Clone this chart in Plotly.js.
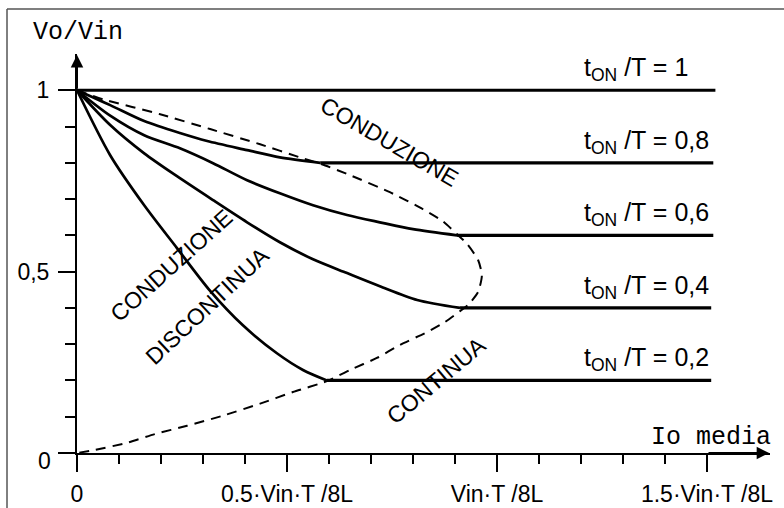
<!DOCTYPE html>
<html><head><meta charset="utf-8">
<script src="https://cdn.plot.ly/plotly-3.0.1.min.js"></script>
<style>html,body{margin:0;padding:0;background:#fff}</style>
</head><body><div id="chart" style="width:784px;height:508px"></div>
<script>
// ---- data ----
const xTickVals = [0, 0.5, 1, 1.5];
const xTickText = ['0', '0.5·Vin·T /8L', 'Vin·T /8L', '1.5·Vin·T /8L'];
const xMinorVals = [0.1,0.2,0.3,0.4,0.6,0.7,0.8,0.9,1.1,1.2,1.3,1.4];
const yTickVals = [0, 0.5, 1];
const yTickText = ['', '0,5', '1'];
const yMinorVals = [0.1,0.2,0.3,0.4,0.6,0.7,0.8,0.9];

const dutyLabels = ['1', '0,8', '0,6', '0,4', '0,2'];
const dutyLevels = [1, 0.8, 0.6, 0.4, 0.2];

// each series: curved (discontinuous conduction) part, last point = start of the flat part; final point = end of flat part
const d10x = [0, 1.52];
const d10y = [1, 1];
const d08x = [0, 0.079, 0.160, 0.245, 0.310, 0.405, 0.483, 0.579, 1.515];
const d08y = [1, 0.959, 0.915, 0.882, 0.860, 0.835, 0.815, 0.800, 0.800];
const d06x = [0, 0.079, 0.160, 0.245, 0.324, 0.405, 0.483, 0.562, 0.643, 0.721, 0.800, 0.905, 1.515];
const d06y = [1, 0.930, 0.876, 0.840, 0.799, 0.752, 0.716, 0.683, 0.656, 0.636, 0.617, 0.600, 0.600];
const d04x = [0, 0.079, 0.160, 0.238, 0.324, 0.405, 0.483, 0.562, 0.643, 0.721, 0.810, 0.912, 1.51];
const d04y = [1, 0.904, 0.826, 0.763, 0.697, 0.636, 0.581, 0.534, 0.496, 0.460, 0.422, 0.400, 0.400];
const d02x = [0, 0.079, 0.160, 0.238, 0.317, 0.395, 0.476, 0.538, 0.595, 1.51];
const d02y = [1, 0.821, 0.683, 0.565, 0.447, 0.352, 0.275, 0.229, 0.200, 0.200];

// dashed boundary between continuous and discontinuous conduction
const bndX = [0, 0.062, 0.198, 0.317, 0.436, 0.531, 0.583, 0.650, 0.745, 0.824, 0.871, 0.905, 0.929, 0.955, 0.964, 0.955, 0.931, 0.912, 0.876, 0.833, 0.769, 0.714, 0.650, 0.595, 0.514, 0.436, 0.345, 0.262, 0.185, 0.119, 0.040, 0];
const bndY = [1, 0.975, 0.934, 0.893, 0.851, 0.815, 0.796, 0.766, 0.719, 0.672, 0.639, 0.603, 0.576, 0.532, 0.490, 0.444, 0.408, 0.391, 0.361, 0.333, 0.298, 0.262, 0.229, 0.198, 0.168, 0.136, 0.102, 0.075, 0.052, 0.028, 0.008, 0];

// ---- styling ----
const sans = 'Liberation Sans, Arial, sans-serif';
const mono = 'Liberation Mono, Courier New, monospace';
const black = '#000';

const traces = [];
function addSeries(x, y) {
  if (x.length > 2) {
    traces.push({x: x.slice(0, -1), y: y.slice(0, -1), type:'scatter', mode:'lines',
      line:{color:black, width:2.7, shape:'spline', smoothing:0.8}, hoverinfo:'skip'});
  }
  traces.push({x: x.slice(-2), y: y.slice(-2), type:'scatter', mode:'lines',
    line:{color:black, width:3.2}, hoverinfo:'skip'});
}
addSeries(d10x, d10y);
addSeries(d08x, d08y);
addSeries(d06x, d06y);
addSeries(d04x, d04y);
addSeries(d02x, d02y);
traces.push({x:bndX, y:bndY, type:'scatter', mode:'lines',
  line:{color:black, width:2, dash:'10px,7px', shape:'spline', smoothing:0.6}, hoverinfo:'skip'});

const annotations = [];
dutyLevels.forEach((v, i) => {
  annotations.push({x:1.202, y:v, xref:'x', yref:'y', xanchor:'left', yanchor:'bottom', yshift:3,
    showarrow:false, text:'t<sub>ON</sub> /T = ' + dutyLabels[i],
    font:{family:sans, size:25, color:black}});
});
// rotated region labels
annotations.push({x:0.745, y:0.857, xref:'x', yref:'y', text:'CONDUZIONE', textangle:30,
  showarrow:false, font:{family:sans, size:23, color:black}});
annotations.push({x:0.226, y:0.518, xref:'x', yref:'y', text:'CONDUZIONE', textangle:-42,
  showarrow:false, font:{family:sans, size:23, color:black}});
annotations.push({x:0.31, y:0.405, xref:'x', yref:'y', text:'DISCONTINUA', textangle:-43,
  showarrow:false, font:{family:sans, size:23, color:black}});
annotations.push({x:0.857, y:0.201, xref:'x', yref:'y', text:'CONTINUA', textangle:-40,
  showarrow:false, font:{family:sans, size:23, color:black}});
// axis names
annotations.push({x:0.0015, y:1.055, xref:'paper', yref:'paper', text:'Vo/Vin', showarrow:false,
  xanchor:'center', yanchor:'middle', font:{family:mono, size:25, color:black}});
annotations.push({x:1.51, y:0.044, xref:'x', yref:'y', text:'Io media', showarrow:false,
  xanchor:'center', yanchor:'middle', font:{family:mono, size:25, color:black}});
// y "0" label (sits a little below the axis in the reference)
annotations.push({x:-0.035, y:0, xref:'paper', yref:'y', text:'0', showarrow:false,
  xanchor:'right', yanchor:'middle', yshift:-8, font:{family:sans, size:23, color:black}});
// axis arrowheads
annotations.push({x:0, y:1.097, ax:0, ay:1.0, xref:'x', yref:'y', axref:'x', ayref:'y', text:'',
  showarrow:true, arrowhead:2, arrowsize:1.25, arrowwidth:2, arrowcolor:black, standoff:0});
annotations.push({x:1.648, y:0, ax:1.5, ay:0, xref:'x', yref:'y', axref:'x', ayref:'y', text:'',
  showarrow:true, arrowhead:2, arrowsize:1.25, arrowwidth:2, arrowcolor:black, standoff:0});

const layout = {
  width:784, height:508,
  margin:{l:77, r:14, t:54, b:55, pad:0},
  paper_bgcolor:'#fff', plot_bgcolor:'#fff',
  showlegend:false,
  xaxis:{range:[0,1.65], showline:true, linewidth:2, linecolor:black, zeroline:false, showgrid:false,
    tickmode:'array', tickvals:xTickVals, ticktext:xTickText, ticks:'outside', ticklen:17, tickwidth:2, tickcolor:black,
    minor:{tickmode:'array', tickvals:xMinorVals, ticks:'outside', ticklen:9, tickwidth:2, tickcolor:black, showgrid:false},
    tickfont:{family:sans, size:23, color:black}, ticklabelstandoff:2, fixedrange:true},
  yaxis:{range:[0,1.1], showline:true, linewidth:2, linecolor:black, zeroline:false, showgrid:false,
    tickmode:'array', tickvals:yTickVals, ticktext:yTickText, ticks:'outside', ticklen:17, tickwidth:2, tickcolor:black,
    minor:{tickmode:'array', tickvals:yMinorVals, ticks:'outside', ticklen:10, tickwidth:2, tickcolor:black, showgrid:false},
    tickfont:{family:sans, size:23, color:black}, ticklabelstandoff:4, fixedrange:true},
  annotations:annotations,
  shapes:[
    {type:'line', xref:'paper', yref:'paper', x0:-0.101, x1:-0.101, y0:1.113, y1:-0.2, line:{color:'#555', width:1.5}},
    {type:'line', xref:'paper', yref:'paper', x0:-0.101, x1:1.1, y0:1.113, y1:1.113, line:{color:'#555', width:1.5}}
  ]
};

Plotly.newPlot('chart', traces, layout, {displayModeBar:false, staticPlot:true});
</script></body></html>
